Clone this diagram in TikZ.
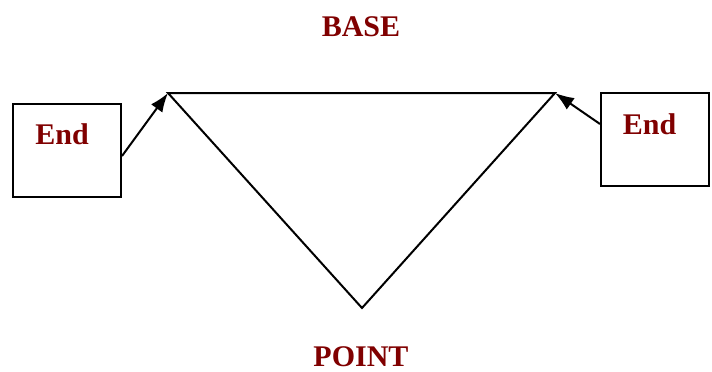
\documentclass[tikz,border=0pt]{standalone}
\usepackage{fontspec}
\setmainfont{Liberation Serif}
\usetikzlibrary{arrows.meta}
\definecolor{labelred}{RGB}{128,0,0}
\begin{document}
\begin{tikzpicture}[x=1pt,y=-1pt,
  box/.style={draw=black,line width=2pt,minimum width=108pt,minimum height=93pt,inner sep=0pt},
  lbl/.style={text=labelred,font=\fontsize{30}{36}\selectfont\bfseries,inner sep=0pt},
  edge/.style={draw=black,line width=2pt},
  arr/.style={edge,-{Latex[length=19pt,width=14pt]}}]
\useasboundingbox (0,0) rectangle (712,372);
\node[box] (lb) at (67,150.5) {};
\node[box] (rb) at (655,139.5) {};
\node[lbl] (lt) at (62,134) {End};
\node[lbl] (rt) at (649.5,124.5) {End};
\node[lbl] (base) at (361,27) {BASE};
\node[lbl] (point) at (361,357) {POINT};
\coordinate (tl) at (168,93);
\coordinate (tr) at (555,93);
\coordinate (tb) at (362,308);
\draw[edge,line join=miter] (tl) -- (tr) -- (tb) -- cycle;
\draw[arr] ([yshift=-5.5pt]lb.east) -- (tl);
\draw[arr] ([yshift=15.5pt]rb.west) -- (tr);
\end{tikzpicture}
\end{document}
